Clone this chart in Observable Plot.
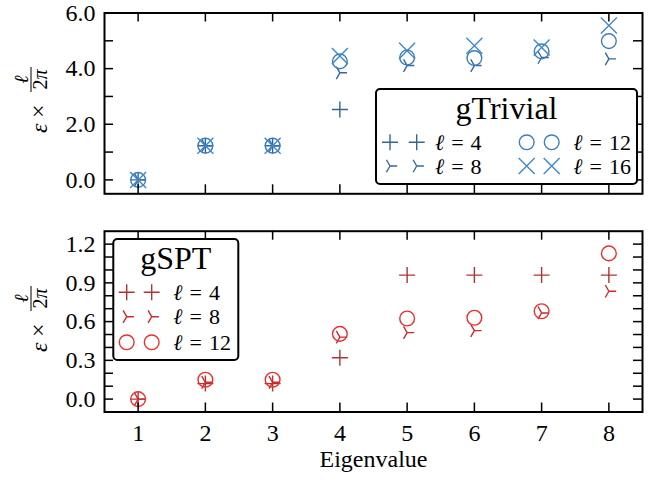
<!DOCTYPE html>
<html><head><meta charset="utf-8">
<script src="https://cdn.jsdelivr.net/npm/d3@7"></script>
<script src="https://cdn.jsdelivr.net/npm/@observablehq/plot@0.6"></script>
<style>
body{margin:0;background:#fff;}
#fig{position:relative;width:662px;height:482px;font-family:"Liberation Serif",serif;}
#fig > svg{position:absolute;left:0;}
#fig text{font-family:"Liberation Serif",serif;}
</style></head><body><div id="fig"></div>
<script>
// ---- data ----
const eigenvalues = [1, 2, 3, 4, 5, 6, 7, 8];
const trivialL4  = [0, 1.23, 1.23, 2.53];
const trivialL8  = [0, 1.23, 1.23, 3.85, 4.11, 4.11, 4.40, 4.35];
const trivialL12 = [0, 1.23, 1.23, 4.26, 4.40, 4.38, 4.62, 4.99];
const trivialL16 = [0, 1.23, 1.23, 4.45, 4.64, 4.82, 4.76, 5.55];
const sptL4  = [0, 0.12, 0.12, 0.32, 0.96, 0.96, 0.96, 0.96];
const sptL8  = [0, 0.13, 0.13, 0.48, 0.515, 0.53, 0.667, 0.835];
const sptL12 = [0, 0.15, 0.15, 0.505, 0.624, 0.63, 0.68, 1.128];
const xTicks = [1, 2, 3, 4, 5, 6, 7, 8];
const trivialYTicks = [0, 1, 2, 3, 4, 5, 6];
const trivialYLabels = [0, 2, 4, 6];
const sptYTicks = [0, 0.1, 0.2, 0.3, 0.4, 0.5, 0.6, 0.7, 0.8, 0.9, 1.0, 1.1, 1.2];
const sptYLabels = [0, 0.3, 0.6, 0.9, 1.2];
const legendValues = ["4", "8", "12", "16"];
const blues = ["#3a6490", "#2f6aa6", "#3b7dbe", "#4088c8"];
const reds = ["#b03434", "#d02a2a", "#ec2d2d"];
const FONT = '"Liberation Serif", serif';

// ---- symbols ----
const symPlus = {draw(c, s){ const r = Math.sqrt(s/Math.PI); c.moveTo(-r,0); c.lineTo(r,0); c.moveTo(0,-r); c.lineTo(0,r);} };
const symTri = {draw(c, s){ const r = Math.sqrt(s/Math.PI)*0.9; c.moveTo(0,0); c.lineTo(r,0); c.moveTo(0,0); c.lineTo(-r/2,-r*0.866); c.moveTo(0,0); c.lineTo(-r/2, r*0.866);} };
const symCircle = {draw(c, s){ const r = Math.sqrt(s/Math.PI)*0.92; c.moveTo(r,0); c.arc(0,0,r,0,2*Math.PI);} };
const symTimes = {draw(c, s){ const r = Math.sqrt(s/Math.PI); c.moveTo(-r,-r); c.lineTo(r,r); c.moveTo(-r,r); c.lineTo(r,-r);} };
const symbols = [symPlus, symTri, symCircle, symTimes];

const W = 662, mL = 104, mR = 20, TL = 9;
const rows = vals => vals.map((v, i) => ({e: eigenvalues[i], v}));

function panel({series, colors, yDomain, yTicks, yLabels, height, marginTop, marginBottom, bottom}) {
  const fw = W - mL - mR, fh = height - marginTop - marginBottom;
  const marks = [];
  series.forEach((vals, i) => {
    marks.push(Plot.dot(rows(vals), {x: "e", y: "v", symbol: symbols[i], r: 8, stroke: colors[i], strokeWidth: 1.4, fill: "none"}));
  });
  marks.push(
    Plot.tickY(yTicks, {y: d => d, insetRight: fw - TL, stroke: "black", strokeWidth: 1.5}),
    Plot.tickY(yTicks, {y: d => d, insetLeft: fw - TL, stroke: "black", strokeWidth: 1.5}),
    Plot.tickX(xTicks, {x: d => d, insetTop: fh - TL, stroke: "black", strokeWidth: 1.5}),
    Plot.tickX(xTicks, {x: d => d, insetBottom: fh - TL, stroke: "black", strokeWidth: 1.5}),
    Plot.axisY({ticks: yLabels, tickSize: 0, tickPadding: 9, tickFormat: d3.format(".1f"), label: null, fontFamily: FONT, fontSize: 24}),
    Plot.frame({stroke: "black", strokeWidth: 2})
  );
  if (bottom) {
    marks.push(
      Plot.axisX({ticks: xTicks, tickSize: 0, tickPadding: 12, label: null, fontFamily: FONT, fontSize: 24}),
      Plot.text(["Eigenvalue"], {text: d => d, frameAnchor: "bottom", dy: 55, fontFamily: FONT, fontSize: 24})
    );
  }
  return Plot.plot({
    width: W, height, marginLeft: mL, marginRight: mR, marginTop, marginBottom,
    x: {domain: [0.5, 8.5], axis: bottom ? undefined : null},
    y: {domain: yDomain},
    style: {fontFamily: FONT, fontSize: "24px", color: "black", background: "transparent", overflow: "visible"},
    marks
  });
}

const fig = document.getElementById("fig");
const topPanel = panel({series: [trivialL4, trivialL8, trivialL12, trivialL16], colors: blues, yDomain: [-0.5, 6],
  yTicks: trivialYTicks, yLabels: trivialYLabels, height: 212, marginTop: 12.5, marginBottom: 18.7, bottom: false});
topPanel.style.top = "0px";
fig.appendChild(topPanel);
const botPanel = panel({series: [sptL4, sptL8, sptL12], colors: reds, yDomain: [-0.1, 1.3],
  yTicks: sptYTicks, yLabels: sptYLabels, height: 270, marginTop: 18.7, marginBottom: 70.5, bottom: true});
botPanel.style.top = "212px";
fig.appendChild(botPanel);

// ---- overlay: y labels and legends ----
const ov = d3.select(fig).append("svg").attr("width", W).attr("height", 482).style("top", "0px")
  .attr("font-family", FONT);

function yLabel(cy) {
  const g = ov.append("g").attr("transform", `translate(0,${cy}) rotate(-90)`);
  g.append("text").attr("x", -33).attr("y", 47).attr("font-size", 24).attr("font-style", "italic").text("ε");
  g.append("text").attr("x", -18).attr("y", 46).attr("font-size", 24).text("×");
  g.append("line").attr("x1", 8).attr("x2", 33).attr("y1", 31).attr("y2", 31).attr("stroke", "black").attr("stroke-width", 1);
  g.append("text").attr("x", 20.5).attr("y", 28).attr("text-anchor", "middle").attr("font-size", 20).attr("font-style", "italic").text("ℓ");
  const den = g.append("text").attr("x", 20.5).attr("y", 47).attr("text-anchor", "middle").attr("font-size", 20);
  den.append("tspan").text("2");
  den.append("tspan").attr("font-style", "italic").text("π");
}
yLabel(100);
yLabel(319);

function symPath(sym) { const p = d3.path(); sym.draw(p, Math.PI * 64); return p.toString(); }

function legend({x0, y0, x1, y1, title, titleY, items}) {
  const g = ov.append("g");
  g.append("rect").attr("x", x0).attr("y", y0).attr("width", x1 - x0).attr("height", y1 - y0)
    .attr("rx", 4).attr("fill", "white").attr("stroke", "black").attr("stroke-width", 2);
  g.append("text").attr("x", (x0 + x1) / 2).attr("y", titleY).attr("text-anchor", "middle").attr("font-size", 32).text(title);
  items.forEach(it => {
    it.mx.forEach(mx => {
      g.append("path").attr("d", symPath(it.sym)).attr("transform", `translate(${mx},${it.y})`)
        .attr("fill", "none").attr("stroke", it.color).attr("stroke-width", 1.4);
    });
    const t = g.append("text").attr("x", it.tx).attr("y", it.y + 7.5).attr("font-size", 22);
    t.append("tspan").attr("font-style", "italic").text("ℓ");
    t.append("tspan").attr("dx", 7).text("=");
    t.append("tspan").attr("dx", 7).text(it.value);
  });
}

legend({x0: 376, y0: 89, x1: 637, y1: 184, title: "gTrivial", titleY: 119,
  items: [
    {sym: symbols[0], color: blues[0], mx: [390, 416.7], tx: 435, y: 142.3, value: legendValues[0]},
    {sym: symbols[1], color: blues[1], mx: [390, 416.7], tx: 435, y: 166, value: legendValues[1]},
    {sym: symbols[2], color: blues[2], mx: [526.7, 551.7], tx: 573.3, y: 142.3, value: legendValues[2]},
    {sym: symbols[3], color: blues[3], mx: [526.7, 551.7], tx: 573.3, y: 166, value: legendValues[3]}
  ]});
legend({x0: 113.3, y0: 239, x1: 238.3, y1: 360, title: "gSPT", titleY: 269,
  items: [
    {sym: symbols[0], color: reds[0], mx: [126.7, 151.7], tx: 173.3, y: 292.3, value: legendValues[0]},
    {sym: symbols[1], color: reds[1], mx: [126.7, 151.7], tx: 173.3, y: 316.7, value: legendValues[1]},
    {sym: symbols[2], color: reds[2], mx: [126.7, 151.7], tx: 173.3, y: 342.3, value: legendValues[2]}
  ]});
</script></body></html>
